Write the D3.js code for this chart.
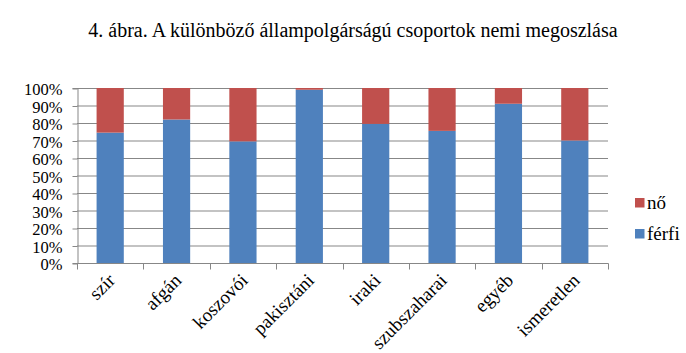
<!DOCTYPE html>
<html><head><meta charset="utf-8">
<script src="https://cdn.jsdelivr.net/npm/d3@7"></script>
<style>body{margin:0;background:#fff}svg{display:block}</style>
</head><body>
<script>
const categories = ["szír","afgán","koszovói","pakisztáni","iraki","szubszaharai","egyéb","ismeretlen"];
const ferfi = [74.5, 82, 69.5, 99, 79.5, 75.5, 91, 70];
const no = ferfi.map(v => 100 - v);
const yTicks = [0,10,20,30,40,50,60,70,80,90,100];
const seriesNames = ["férfi","nő"];
const colors = {"férfi":"#4F81BD","nő":"#C0504D"};
const title = "4. ábra. A különböző állampolgárságú csoportok nemi megoszlása";

const W=686,H=353;
const m={left:77,right:608,top:88,bottom:263};
const FONT="Liberation Serif";
const svg=d3.select("body").append("svg").attr("width",W).attr("height",H).attr("font-family",FONT);

svg.append("text").attr("x",353).attr("y",37).attr("text-anchor","middle")
  .attr("font-family",FONT).attr("font-size",20).attr("fill","#000").text(title);

const x=d3.scaleBand().domain(categories).range([m.left,m.right]).paddingInner(0.59).paddingOuter(0.295);
const y=d3.scaleLinear().domain([0,100]).range([m.bottom,m.top]);

svg.append("g").selectAll("line").data(yTicks.filter(d=>d>0)).join("line")
  .attr("x1",m.left).attr("x2",m.right).attr("y1",d=>y(d)+0.5).attr("y2",d=>y(d)+0.5)
  .attr("stroke","#878787").attr("stroke-width",1);

const data=categories.map((c,i)=>({cat:c,"férfi":ferfi[i],"nő":no[i]}));
const stack=d3.stack().keys(seriesNames)(data);
svg.append("g").selectAll("g").data(stack).join("g").attr("fill",d=>colors[d.key])
  .selectAll("rect").data(d=>d).join("rect")
  .attr("x",d=>x(d.data.cat)).attr("width",x.bandwidth())
  .attr("y",d=>y(d[1])).attr("height",d=>y(d[0])-y(d[1]));

const ya=svg.append("g").attr("transform",`translate(${m.left+0.5},0)`)
  .call(d3.axisLeft(y).tickValues(yTicks).tickFormat(d=>d+"%").tickSize(5).tickPadding(10));
ya.attr("font-family",FONT).attr("font-size",16.5);
ya.select(".domain").attr("stroke","#878787");
ya.selectAll(".tick line").attr("stroke","#878787").attr("transform","translate(0,0.5)");
ya.selectAll("text").attr("fill","#000").attr("y",1.5);

const xb=d3.scaleLinear().domain([0,categories.length]).range([m.left,m.right]);
const xa=svg.append("g").attr("transform",`translate(0,${m.bottom+0.5})`);
xa.append("line").attr("x1",m.left).attr("x2",m.right+0.5).attr("stroke","#878787");
xa.selectAll("line.t").data(d3.range(categories.length+1)).join("line").attr("class","t")
  .attr("x1",d=>Math.round(xb(d))+0.5).attr("x2",d=>Math.round(xb(d))+0.5).attr("y1",0).attr("y2",6)
  .attr("stroke","#878787");
xa.selectAll("text").data(categories).join("text")
  .attr("transform",d=>`translate(${x(d)+x.bandwidth()/2+6},${18}) rotate(-45)`)
  .attr("text-anchor","end")
  .attr("font-family",FONT).attr("font-size",19).attr("fill","#000").text(d=>d);

const leg=svg.append("g");
["nő","férfi"].forEach((k,i)=>{
  const gy=198+i*31;
  leg.append("rect").attr("x",635).attr("y",gy).attr("width",9.5).attr("height",9.5).attr("fill",colors[k]);
  leg.append("text").attr("x",647).attr("y",gy+11).attr("font-family",FONT).attr("font-size",19).attr("fill","#000").text(k);
});
</script>
</body></html>
